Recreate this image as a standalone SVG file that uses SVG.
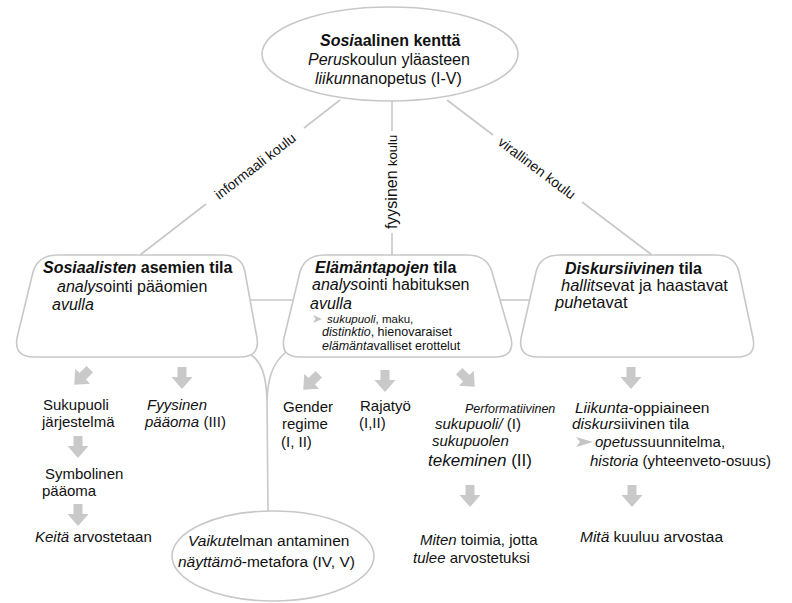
<svg xmlns="http://www.w3.org/2000/svg" width="792" height="603" viewBox="0 0 792 603">
<style>
text { font-family: "Liberation Sans", Arial, Helvetica, sans-serif; font-size: 16px; fill: #111; }
.i { font-style: italic; }
.b { font-weight: bold; }
.s { font-size: 12.5px; }
.m { font-size: 15px; }
.lbl { font-size: 14px; }
.shape { fill: #fff; stroke: #c8c8c8; stroke-width: 1.6; }
.line { fill: none; stroke: #c8c8c8; stroke-width: 1.6; }
.arr { fill: #c9c9c9; }
</style>
<defs>
<path id="blk" d="M -4.5 -11 L 4.5 -11 L 4.5 -1 L 10.5 -1 L 0 11 L -10.5 -1 L -4.5 -1 Z"/>
</defs>
<rect width="792" height="603" fill="#fff"/>

<g id="connectors">
<line class="line" x1="340" y1="100" x2="304" y2="128"/>
<line class="line" x1="206" y1="204" x2="140" y2="255"/>
<line class="line" x1="392" y1="101" x2="392" y2="131"/>
<line class="line" x1="392" y1="233" x2="392" y2="255"/>
<line class="line" x1="447" y1="100" x2="493" y2="135"/>
<line class="line" x1="582" y1="202" x2="652" y2="255"/>
<line class="line" x1="250" y1="300" x2="293" y2="300"/>
<line class="line" x1="500" y1="300" x2="530" y2="300"/>
<path class="line" d="M 250 354 C 262 362 266 375 267 400 L 268 511"/>
<path class="line" d="M 286 352 C 274 362 268 375 267 400"/>
<g transform="translate(255,166) rotate(-37.8)"><text class="lbl" x="0" y="5" text-anchor="middle">informaali koulu</text></g>
<g transform="translate(392,182) rotate(-90)"><text x="0" y="5" text-anchor="middle"><tspan style="font-size:16px">fyysinen</tspan> <tspan style="font-size:13px">koulu</tspan></text></g>
<g transform="translate(537,168) rotate(37.1)"><text class="lbl" x="0" y="5" text-anchor="middle">virallinen koulu</text></g>
<use href="#blk" class="arr" transform="translate(82,377) rotate(45)"/>
<use href="#blk" class="arr" transform="translate(182,378)"/>
<use href="#blk" class="arr" transform="translate(78,447)"/>
<use href="#blk" class="arr" transform="translate(78,515)"/>
<use href="#blk" class="arr" transform="translate(311,382) rotate(45)"/>
<use href="#blk" class="arr" transform="translate(385,381)"/>
<use href="#blk" class="arr" transform="translate(467,379) rotate(-45)"/>
<use href="#blk" class="arr" transform="translate(470,496)"/>
<use href="#blk" class="arr" transform="translate(631,378)"/>
<use href="#blk" class="arr" transform="translate(632,496)"/>
</g>

<g id="n_top">
<ellipse class="shape" cx="390" cy="54" rx="128" ry="47"/>
<text x="320" y="46" class="b"><tspan class="i">Sosi</tspan>aalinen kenttä</text>
<text x="308" y="65"><tspan class="i">Perus</tspan>koulun yläasteen</text>
<text x="315" y="84"><tspan class="i">liikun</tspan>nanopetus (I-V)</text>
</g>

<g id="n_left">
<path class="shape" d="M 58 255 H 222 Q 242 255 245 272 L 257 338 Q 260 357 240 357 H 34 Q 14 357 17 338 L 33 272 Q 38 255 58 255 Z"/>
<text x="43" y="273" class="b"><tspan class="i">Sosiaalisten</tspan> asemien tila</text>
<text x="57" y="292"><tspan class="i">analys</tspan>ointi pääomien</text>
<text x="52" y="310" class="i">avulla</text>
</g>

<g id="n_mid">
<path class="shape" d="M 325 255 H 467 Q 487 255 492 272 L 511 338 Q 515 357 495 357 H 300 Q 280 357 284 338 L 300 272 Q 305 255 325 255 Z"/>
<text x="315" y="273" class="b"><tspan class="i">Elämäntapojen</tspan> tila</text>
<text x="312" y="290"><tspan class="i">analys</tspan>ointi habituksen</text>
<text x="310" y="309" class="i">avulla</text>
<path d="M 313 315 L 322 319 L 313 323 L 315.5 319 Z" fill="#c4c4c4"/>
<text x="327" y="323" style="font-size:11.5px"><tspan class="i">sukupuoli</tspan>, maku,</text>
<text x="322" y="336" class="s"><tspan class="i">distinktio</tspan>, hienovaraiset</text>
<text x="322" y="350" class="s"><tspan class="i">elämänta</tspan>valliset erottelut</text>
</g>

<g id="n_right">
<path class="shape" d="M 560 255 H 715 Q 735 255 739 272 L 753 338 Q 757 357 737 357 H 538 Q 518 357 521 338 L 536 272 Q 540 255 560 255 Z"/>
<text x="565" y="274" class="b"><tspan class="i">Diskursiivinen</tspan> tila</text>
<text x="561" y="291" style="font-size:16.5px"><tspan class="i">hallits</tspan>evat ja haastavat</text>
<text x="555" y="308" style="font-size:16.5px"><tspan class="i">puhe</tspan>tavat</text>
</g>

<g id="n_bottom">
<ellipse class="shape" cx="273" cy="556" rx="101" ry="45"/>
<text x="188" y="546" style="font-size:15.5px"><tspan class="i">Vaikut</tspan>elman antaminen</text>
<text x="178" y="567" style="font-size:15.5px"><tspan class="i">näyttämö</tspan>-metafora (IV, V)</text>
</g>

<g id="t_sukupuoli">
<text x="43" y="410" class="m">Sukupuoli</text>
<text x="42" y="427" class="m">järjestelmä</text>
</g>
<g id="t_fyysinen">
<text x="147" y="410" class="m i">Fyysinen</text>
<text x="145" y="427" class="m"><tspan class="i">pääoma</tspan> (III)</text>
</g>
<g id="t_symbolinen">
<text x="45" y="479" class="m">Symbolinen</text>
<text x="42" y="496" class="m">pääoma</text>
</g>
<g id="t_keita">
<text x="35" y="542" class="m"><tspan class="i">Keitä</tspan> arvostetaan</text>
</g>
<g id="t_gender">
<text x="283" y="412" class="m">Gender</text>
<text x="282" y="429" class="m">regime</text>
<text x="281" y="447" class="m">(I, II)</text>
</g>
<g id="t_rajatyo">
<text x="360" y="411" class="m">Rajatyö</text>
<text x="359" y="428" class="m">(I,II)</text>
</g>
<g id="t_performatiivinen">
<text x="465" y="413" class="i" style="font-size:12.5px">Performatiivinen</text>
<text x="435" y="429" class="m"><tspan class="i">sukupuoli/</tspan> (I)</text>
<text x="432" y="446" class="m i">sukupuolen</text>
<text x="428" y="466" style="font-size:17px"><tspan class="i">tekeminen</tspan> (II)</text>
</g>
<g id="t_miten">
<text x="420" y="545" class="m"><tspan class="i">Miten</tspan> toimia, jotta</text>
<text x="413" y="563" class="m"><tspan class="i">tulee</tspan> arvostetuksi</text>
</g>
<g id="t_liikunta">
<text x="575" y="413" style="font-size:15.5px"><tspan class="i">Liikunta</tspan>-oppiaineen</text>
<text x="572" y="429" style="font-size:15.5px"><tspan class="i">diskurs</tspan>iivinen tila</text>
<path d="M 576 437 L 593 442 L 576 447 L 580 442 Z" fill="#c4c4c4"/>
<text x="595" y="447" class="m"><tspan class="i">opetus</tspan>suunnitelma,</text>
<text x="590" y="466" class="m"><tspan class="i">historia</tspan> (yhteenveto-osuus)</text>
</g>
<g id="t_mita">
<text x="580" y="542" style="font-size:15.5px"><tspan class="i">Mitä</tspan> kuuluu arvostaa</text>
</g>
</svg>
